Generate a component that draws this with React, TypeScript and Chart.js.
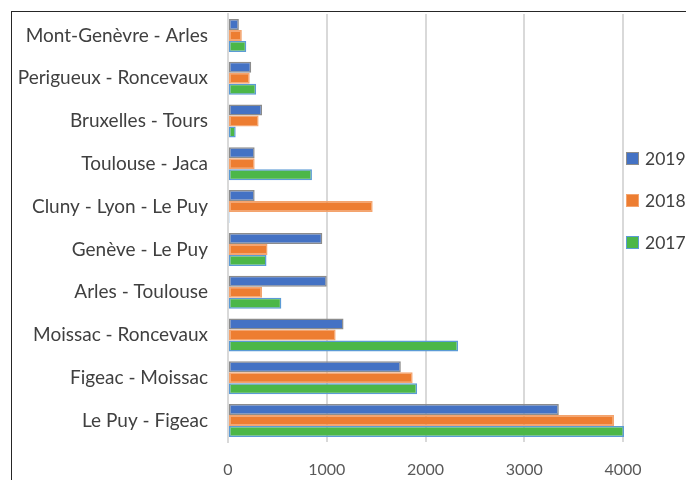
import React, { useEffect, useRef } from "react";
import { Chart, registerables } from "chart.js";

Chart.register(...registerables);

const categories = [
  "Mont-Genèvre - Arles",
  "Perigueux - Roncevaux",
  "Bruxelles - Tours",
  "Toulouse - Jaca",
  "Cluny - Lyon - Le Puy",
  "Genève - Le Puy",
  "Arles - Toulouse",
  "Moissac - Roncevaux",
  "Figeac - Moissac",
  "Le Puy - Figeac",
];
const seriesNames = ["2019", "2018", "2017"];
const values2019 = [110, 235, 345, 270, 270, 955, 1000, 1170, 1750, 3350];
const values2018 = [140, 220, 310, 270, 1465, 400, 345, 1090, 1870, 3910];
const values2017 = [185, 285, 78, 850, 15, 390, 540, 2330, 1915, 4010];
const xTickValues = [0, 1000, 2000, 3000, 4000];

const FONT = "Lato, 'Open Sans', sans-serif";
const fills = ["#4472C4", "#ED7D31", "#4CB748"];
const borders = ["#8C8C8C", "#F4A46E", "#5B9BD5"];

export default function App() {
  const ref = useRef<HTMLCanvasElement | null>(null);

  useEffect(() => {
    if (!ref.current) return;
    const seriesValues = [values2019, values2018, values2017];
    const chart = new Chart(ref.current, {
      type: "bar",
      data: {
        labels: categories,
        datasets: seriesNames.map((name, i) => ({
          label: name,
          data: seriesValues[i],
          backgroundColor: fills[i],
          borderColor: borders[i],
          borderWidth: 1.5,
          borderSkipped: false,
          categoryPercentage: 0.77,
          barPercentage: 1.0,
          clip: 10,
        })),
      },
      options: {
        indexAxis: "y",
        responsive: false,
        animation: false,
        layout: { autoPadding: false, padding: { top: 2, right: 63, bottom: 0, left: 0 } },
        plugins: {
          legend: { display: false },
          tooltip: { enabled: false },
        },
        scales: {
          x: {
            min: 0,
            max: 4000,
            afterBuildTicks: (scale: any) => {
              scale.ticks = xTickValues.map((v) => ({ value: v }));
            },
            afterFit: (scale: any) => {
              scale.height = 38;
              scale.paddingLeft = 0;
              scale.paddingRight = 0;
            },
            grid: { color: "#D9D9D9", lineWidth: 2, drawTicks: false },
            border: { display: false },
            ticks: {
              color: "#595959",
              padding: 18,
              font: { family: FONT, size: 16 },
              callback: (v: any) => String(v),
            },
          },
          y: {
            afterFit: (scale: any) => {
              scale.width = 216;
              scale.paddingTop = 0;
              scale.paddingBottom = 0;
            },
            grid: { display: false, drawTicks: false },
            border: { display: true, color: "#D9D9D9", width: 2 },
            ticks: {
              color: "#404040",
              padding: 20,
              font: { family: FONT, size: 19 },
            },
          },
        },
      },
    });
    return () => chart.destroy();
  }, []);

  const legendTops = [146, 188, 230];

  return (
    <div
      style={{
        position: "fixed",
        left: 11,
        top: 11,
        width: 675,
        height: 469,
        borderLeft: "1px solid #262626",
        borderTop: "1px solid #262626",
        background: "#fff",
        overflow: "hidden",
      }}
    >
      <canvas ref={ref} width={674} height={468} style={{ display: "block" }} />
      {seriesNames.map((name, i) => (
        <div
          key={name}
          style={{
            position: "absolute",
            left: 614,
            top: legendTops[i] - 12,
            height: 24,
            display: "flex",
            alignItems: "center",
            fontFamily: FONT,
            fontSize: 17.5,
            color: "#404040",
            whiteSpace: "nowrap",
          }}
        >
          <span
            style={{
              display: "inline-block",
              width: 11,
              height: 11,
              background: fills[i],
              border: `1px solid ${borders[i]}`,
              marginRight: 6,
            }}
          />
          {name}
        </div>
      ))}
    </div>
  );
}
